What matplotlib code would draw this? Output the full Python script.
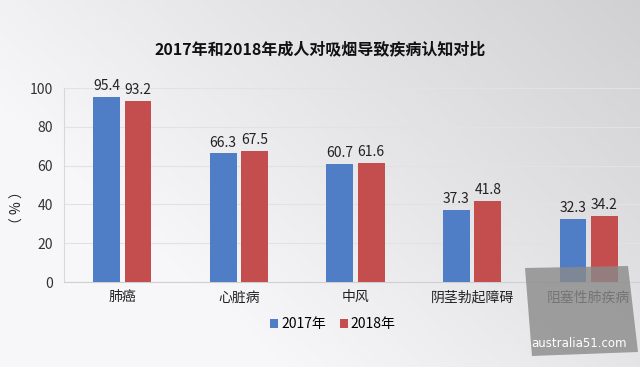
import numpy as np
import matplotlib.pyplot as plt
import matplotlib.patches as patches

plt.rcParams['font.family'] = ['Noto Sans CJK SC', 'DejaVu Sans']

categories = ['肺癌', '心脏病', '中风', '阴茎勃起障碍', '阻塞性肺疾病']
values_2017 = [95.4, 66.3, 60.7, 37.3, 32.3]
values_2018 = [93.2, 67.5, 61.6, 41.8, 34.2]
series_names = ['2017年', '2018年']
y_ticks = [0, 20, 40, 60, 80, 100]

blue = '#4f7ec6'
red = '#c44e4e'

fig = plt.figure(figsize=(6.4, 3.67), dpi=100)

# background gradient: light on the left, greyer towards the top right
bg = fig.add_axes([0, 0, 1, 1], zorder=-10)
gx = np.linspace(0, 1, 200)
gy = np.linspace(0, 1, 120)
X, Y = np.meshgrid(gx, gy)
shade = 0.97 - 0.16 * np.clip(X * 0.8 + (1 - Y) * 0.5 - 0.35, 0, 1)
bg.imshow(np.dstack([shade, shade, shade * 1.01]).clip(0, 1), aspect='auto',
          extent=[0, 1, 0, 1], origin='upper')
bg.set_axis_off()

ax = fig.add_axes([0.1, 0.2316, 0.911, 0.5286])
ax.patch.set_alpha(0)

x = np.arange(len(categories))
w = 0.23
b1 = ax.bar(x - w / 2 - 0.02, values_2017, w, color=blue, label=series_names[0], zorder=3)
b2 = ax.bar(x + w / 2 + 0.02, values_2018, w, color=red, label=series_names[1], zorder=3)

for bars in (b1, b2):
    for rect in bars:
        ax.text(rect.get_x() + rect.get_width() / 2, rect.get_height() + 2,
                f'{rect.get_height():.1f}', ha='center', va='bottom',
                fontsize=10, color='#222222')

ax.set_xlim(-0.5, 4.5)
ax.set_ylim(0, 100)
ax.set_yticks(y_ticks)
ax.set_xticks(x)
ax.set_xticklabels(categories, fontsize=10, color='#222222')
ax.tick_params(axis='y', labelsize=10, colors='#333333', length=0, pad=8)
ax.tick_params(axis='x', length=0, pad=6)
ax.grid(axis='y', color='#e2e2e2', linewidth=0.8, zorder=0)
for s in ['top', 'right']:
    ax.spines[s].set_visible(False)
ax.spines['left'].set_color('#d8d8d8')
ax.spines['bottom'].set_color('#d0d0d0')

fig.text(0.027, 0.435, '（ % ）', rotation=90, ha='center', va='center',
         fontsize=10, color='#222222')

fig.text(0.50, 0.865, '2017年和2018年成人对吸烟导致疾病认知对比', ha='center', va='center',
         fontsize=11.5, fontweight='bold', color='#111111')

fig.legend(handles=[b1, b2], labels=series_names, loc='center',
           bbox_to_anchor=(0.52, 0.117), ncol=2, frameon=False, fontsize=10,
           handlelength=0.6, handleheight=0.6, handletextpad=0.2, columnspacing=1.0)

# watermark box in the lower right corner
wm = patches.Polygon([[525 / 640, 1 - 268 / 367], [628 / 640, 1 - 266 / 367],
                      [638 / 640, 1 - 352 / 367], [532 / 640, 1 - 356 / 367]],
                     closed=True, transform=fig.transFigure, facecolor='#8a8a8a',
                     alpha=0.8, edgecolor='none', zorder=5)
fig.patches.append(wm)
fig.text(0.905, 0.065, 'australia51.com', ha='center', va='center', fontsize=8.5,
         color='white', zorder=6, family=['DejaVu Sans'])

fig.savefig('out.png', dpi=100)
